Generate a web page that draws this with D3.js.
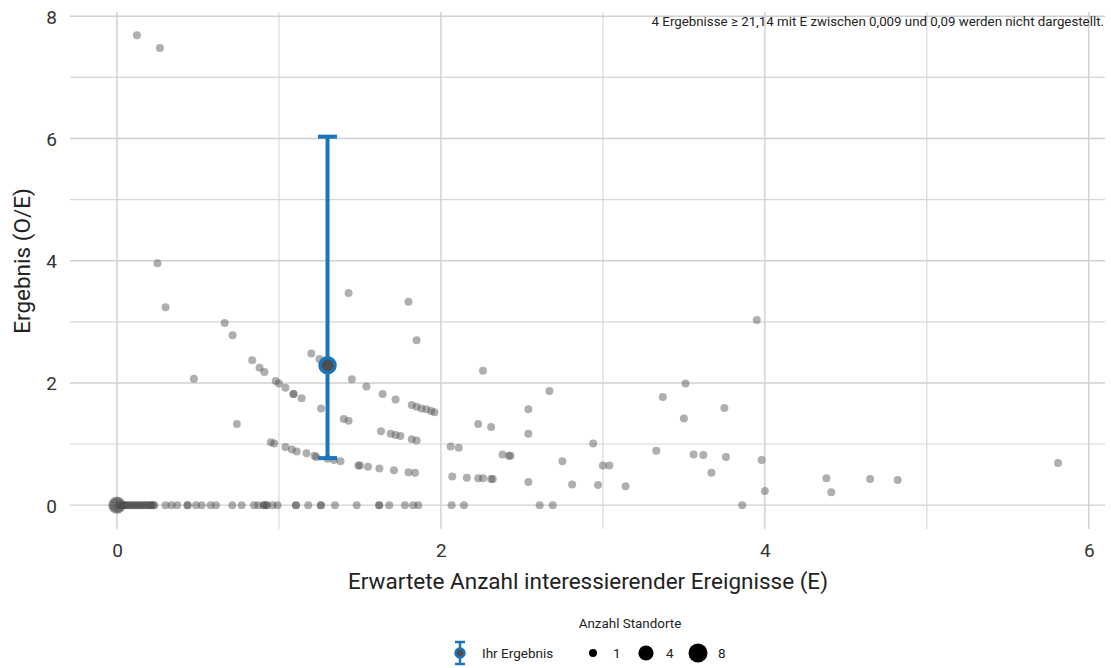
<!DOCTYPE html>
<html><head><meta charset="utf-8">
<script src="https://cdn.jsdelivr.net/npm/d3@7"></script>
<style>
body{margin:0;background:#fff;}
text{font-family:Roboto,"DejaVu Sans",sans-serif;}
</style></head>
<body>
<svg id="c" width="1111" height="668"></svg>
<script>
// Expected number E of each site
const siteE = [
 0.00,0.00,0.00,0.01,0.02,0.03,0.035,0.045,0.05,0.06,0.07,0.08,0.09,0.10,0.11,0.12,0.13,0.14,0.15,0.16,0.17,0.18,0.19,0.20,0.21,0.215,0.225,0.23,
 0.30,0.337,0.372,0.436,0.436,0.488,0.523,0.578,0.611,0.712,0.77,0.846,0.872,0.907,0.907,0.924,0.924,0.961,0.992,
 1.105,1.105,1.181,1.259,1.259,1.346,1.48,1.619,1.619,1.681,1.778,1.829,1.86,2.066,2.142,2.61,2.69,3.86,
 0.123,0.265,0.25,0.30,0.475,0.665,0.714,0.74,0.835,0.88,0.91,0.98,1.00,1.04,1.09,1.09,1.14,1.20,1.25,1.26,
 1.43,1.45,1.54,1.64,1.72,1.80,1.85,1.82,1.85,1.88,1.91,1.94,1.96,1.40,1.43,1.63,1.69,1.72,1.75,1.82,1.85,
 0.95,0.97,1.04,1.08,1.11,1.17,1.22,1.23,1.30,1.34,1.38,1.49,1.50,1.55,1.62,1.71,1.80,1.84,
 2.26,2.67,2.54,2.23,2.31,2.54,2.94,2.06,2.11,2.38,2.42,2.43,2.75,3.00,3.04,2.07,2.16,2.23,2.26,2.31,2.32,2.54,2.81,2.97,3.14,
 3.33,3.37,3.51,3.50,3.75,3.56,3.62,3.76,3.67,3.98,4.00,3.95,4.38,4.41,4.65,4.82,5.81
];
// Result O/E of each site
const siteOE = [
 0,0,0,0,0,0,0,0,0,0,0,0,0,0,0,0,0,0,0,0,0,0,0,0,0,0,0,0,
 0,0,0,0,0,0,0,0,0,0,0,0,0,0,0,0,0,0,0,
 0,0,0,0,0,0,0,0,0,0,0,0,0,0,0,0,0,0,
 7.69,7.48,3.96,3.24,2.07,2.98,2.78,1.33,2.37,2.25,2.18,2.03,1.99,1.92,1.82,1.82,1.75,2.48,2.39,1.58,
 3.47,2.06,1.94,1.82,1.73,3.33,2.70,1.64,1.61,1.58,1.57,1.54,1.52,1.41,1.38,1.21,1.17,1.15,1.13,1.08,1.06,
 1.03,1.01,0.95,0.91,0.88,0.85,0.81,0.79,0.76,0.74,0.72,0.65,0.65,0.63,0.60,0.57,0.54,0.53,
 2.20,1.87,1.57,1.33,1.28,1.17,1.01,0.96,0.94,0.83,0.81,0.81,0.72,0.65,0.65,0.47,0.45,0.44,0.44,0.43,0.43,0.38,0.34,0.33,0.31,
 0.89,1.77,1.99,1.42,1.59,0.83,0.82,0.79,0.53,0.74,0.23,3.03,0.44,0.21,0.43,0.41,0.69
];
// Number of sites per point (all 1 except the overlapping points at the origin)
const originN = [6,5,3];
const siteN = siteE.map((e,i)=> (i < originN.length ? originN[i] : 1));

// Your result
const yourE = [1.30];
const yourOE = [2.29];
const yourLow = [0.77];
const yourHigh = [6.03];

const xTicks = [0,2,4,6];
const yTicks = [0,2,4,6,8];
const xMinor = [1,3,5];
const yMinor = [1,3,5,7];
const legendSizes = [1,4,8];

const note = "4 Ergebnisse \u2265 21,14 mit E zwischen 0,009 und 0,09 werden nicht dargestellt.";
const xTitle = "Erwartete Anzahl interessierender Ereignisse (E)";
const yTitle = "Ergebnis (O/E)";
const sizeTitle = "Anzahl Standorte";
const yourLabel = "Ihr Ergebnis";

const blue = "#1a75bb";
const svg = d3.select("#c");
const x = d3.scaleLinear().domain([-0.29, 6.1]).range([70, 1105]);
const y = d3.scaleLinear().domain([-0.39, 8.07]).range([529, 12]);
const r = d3.scaleSqrt().domain([0, 7]).range([4, 9.5]); // applied to n-1
const rad = n => r(n-1);

const g = svg.append("g");
// grid
g.selectAll(".gxm").data(xMinor).join("line")
 .attr("x1",d=>x(d)).attr("x2",d=>x(d)).attr("y1",y.range()[0]).attr("y2",y.range()[1])
 .attr("stroke","#d6d6d6").attr("stroke-width",1.1);
g.selectAll(".gym").data(yMinor).join("line")
 .attr("y1",d=>y(d)).attr("y2",d=>y(d)).attr("x1",x.range()[0]).attr("x2",x.range()[1])
 .attr("stroke","#d6d6d6").attr("stroke-width",1.1);
g.selectAll(".gx").data(xTicks).join("line")
 .attr("x1",d=>x(d)).attr("x2",d=>x(d)).attr("y1",y.range()[0]).attr("y2",y.range()[1])
 .attr("stroke","#d0d0d0").attr("stroke-width",1.4);
g.selectAll(".gy").data(yTicks).join("line")
 .attr("y1",d=>y(d)).attr("y2",d=>y(d)).attr("x1",x.range()[0]).attr("x2",x.range()[1])
 .attr("stroke","#d0d0d0").attr("stroke-width",1.4);

// axes tick labels
const xAxis = d3.axisBottom(x).tickValues(xTicks).tickSize(0).tickPadding(0).tickFormat(d3.format("d"));
const xa = svg.append("g").attr("transform","translate(0,557)").call(xAxis);
xa.select(".domain").remove();
xa.selectAll("text").attr("font-size",19).attr("fill","#333").attr("dy","0");
const yAxis = d3.axisLeft(y).tickValues(yTicks).tickSize(0).tickPadding(0).tickFormat(d3.format("d"));
const ya = svg.append("g").attr("transform","translate(57,0)").call(yAxis);
ya.select(".domain").remove();
ya.selectAll("text").attr("font-size",19).attr("fill","#333").attr("dy","0.36em");

// titles
svg.append("text").attr("x",588).attr("y",589).attr("text-anchor","middle")
 .attr("font-size",22.5).attr("fill","#222").text(xTitle);
svg.append("text").attr("transform","translate(30,261) rotate(-90)").attr("text-anchor","middle")
 .attr("font-size",22.5).attr("fill","#222").text(yTitle);
svg.append("text").attr("x",1104).attr("y",26).attr("text-anchor","end")
 .attr("font-size",13.3).attr("fill","#222").text(note);

// points
const pts = siteE.map((e,i)=>({e, oe:siteOE[i], n:siteN[i]}));
svg.append("g").selectAll("circle").data(pts).join("circle")
 .attr("cx",d=>x(d.e)).attr("cy",d=>y(d.oe)).attr("r",d=>rad(d.n))
 .attr("fill","#4d4d4d").attr("fill-opacity",0.45);

// error bar
const eb = svg.append("g");
yourE.forEach((e,i)=>{
 eb.append("line").attr("x1",x(e)).attr("x2",x(e)).attr("y1",y(yourLow[i])).attr("y2",y(yourHigh[i]))
  .attr("stroke",blue).attr("stroke-width",4);
 [yourLow[i],yourHigh[i]].forEach(v=>{
  eb.append("line").attr("x1",x(e)-9.5).attr("x2",x(e)+9.5).attr("y1",y(v)).attr("y2",y(v))
   .attr("stroke",blue).attr("stroke-width",4);
 });
 eb.append("circle").attr("cx",x(e)).attr("cy",y(yourOE[i])).attr("r",7.5)
  .attr("fill","#4d4d4d").attr("stroke",blue).attr("stroke-width",3.5);
});

// legend
svg.append("text").attr("x",630).attr("y",628).attr("text-anchor","middle")
 .attr("font-size",13.4).attr("fill","#222").text(sizeTitle);
const lg = svg.append("g");
const ly = 653;
lg.append("line").attr("x1",460).attr("x2",460).attr("y1",ly-11).attr("y2",ly+11).attr("stroke",blue).attr("stroke-width",2.5);
[ly-11,ly+11].forEach(v=>lg.append("line").attr("x1",455).attr("x2",465).attr("y1",v).attr("y2",v).attr("stroke",blue).attr("stroke-width",2.5));
lg.append("circle").attr("cx",460).attr("cy",ly).attr("r",4.5).attr("fill","#4d4d4d").attr("stroke",blue).attr("stroke-width",2.5);
lg.append("text").attr("x",482).attr("y",ly).attr("dy","0.36em").attr("font-size",13.5).attr("fill","#222").text(yourLabel);
const lx = [593,646,698];
legendSizes.forEach((n,i)=>{
 lg.append("circle").attr("cx",lx[i]).attr("cy",ly).attr("r",rad(n)).attr("fill","#000");
 lg.append("text").attr("x",lx[i]+20).attr("y",ly).attr("dy","0.36em").attr("font-size",13.5).attr("fill","#222").text(n);
});
</script>
</body></html>
